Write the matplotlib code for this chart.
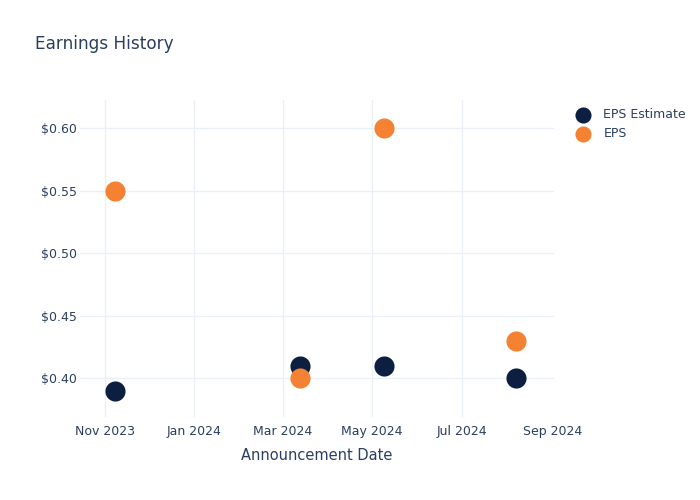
import pandas as pd
import matplotlib
matplotlib.use('Agg')
import matplotlib.pyplot as plt
import matplotlib.dates as mdates

# values
dates = pd.to_datetime(['2023-11-08', '2024-03-13', '2024-05-09', '2024-08-07'])
eps_estimate = [0.39, 0.41, 0.41, 0.40]
eps_actual = [0.55, 0.40, 0.60, 0.43]
tick_dates = pd.to_datetime(['2023-11-01', '2024-01-01', '2024-03-01',
                             '2024-05-01', '2024-07-01', '2024-09-01'])
y_ticks = [0.40, 0.45, 0.50, 0.55, 0.60]

text_color = '#2a3f5f'
grid_color = '#ebf0f8'
navy = '#0c1f40'
orange = '#f58233'

fig = plt.figure(figsize=(7, 5), dpi=100)
ax = fig.add_axes([80 / 700, 83 / 500, 474 / 700, 317 / 500])

ax.scatter(dates, eps_estimate, s=210, color=navy, label='EPS Estimate', zorder=3, linewidths=0)
ax.scatter(dates, eps_actual, s=210, color=orange, label='EPS', zorder=3, linewidths=0)

ax.set_xlim(pd.Timestamp('2023-10-15'), pd.Timestamp('2024-09-02'))
ax.set_ylim(0.369, 0.6227)
ax.set_xticks(tick_dates)
ax.xaxis.set_major_formatter(mdates.DateFormatter('%b %Y'))
ax.set_yticks(y_ticks)
ax.set_yticklabels(['$%.2f' % v for v in y_ticks])

ax.grid(True, color=grid_color, linewidth=1)
ax.set_axisbelow(True)
# no gridline drawn at the right edge (Sep 2024)
ax.get_xgridlines()[-1].set_visible(False)
for s in ax.spines.values():
    s.set_visible(False)
ax.tick_params(length=0, labelsize=9, colors=text_color)
ax.tick_params(axis='y', pad=2)
ax.tick_params(axis='x', pad=6)

ax.set_xlabel('Announcement Date', fontsize=10.5, color=text_color, labelpad=7)
fig.text(35 / 700, 1 - 44 / 500, 'Earnings History', fontsize=12.2, color=text_color, va='center')

leg = ax.legend(loc='upper left', bbox_to_anchor=(1.025, 0.99), frameon=False,
                fontsize=9, labelcolor=text_color, handletextpad=0.6,
                labelspacing=0.45, markerscale=0.8, borderaxespad=0)

fig.savefig('out.png', dpi=100)
